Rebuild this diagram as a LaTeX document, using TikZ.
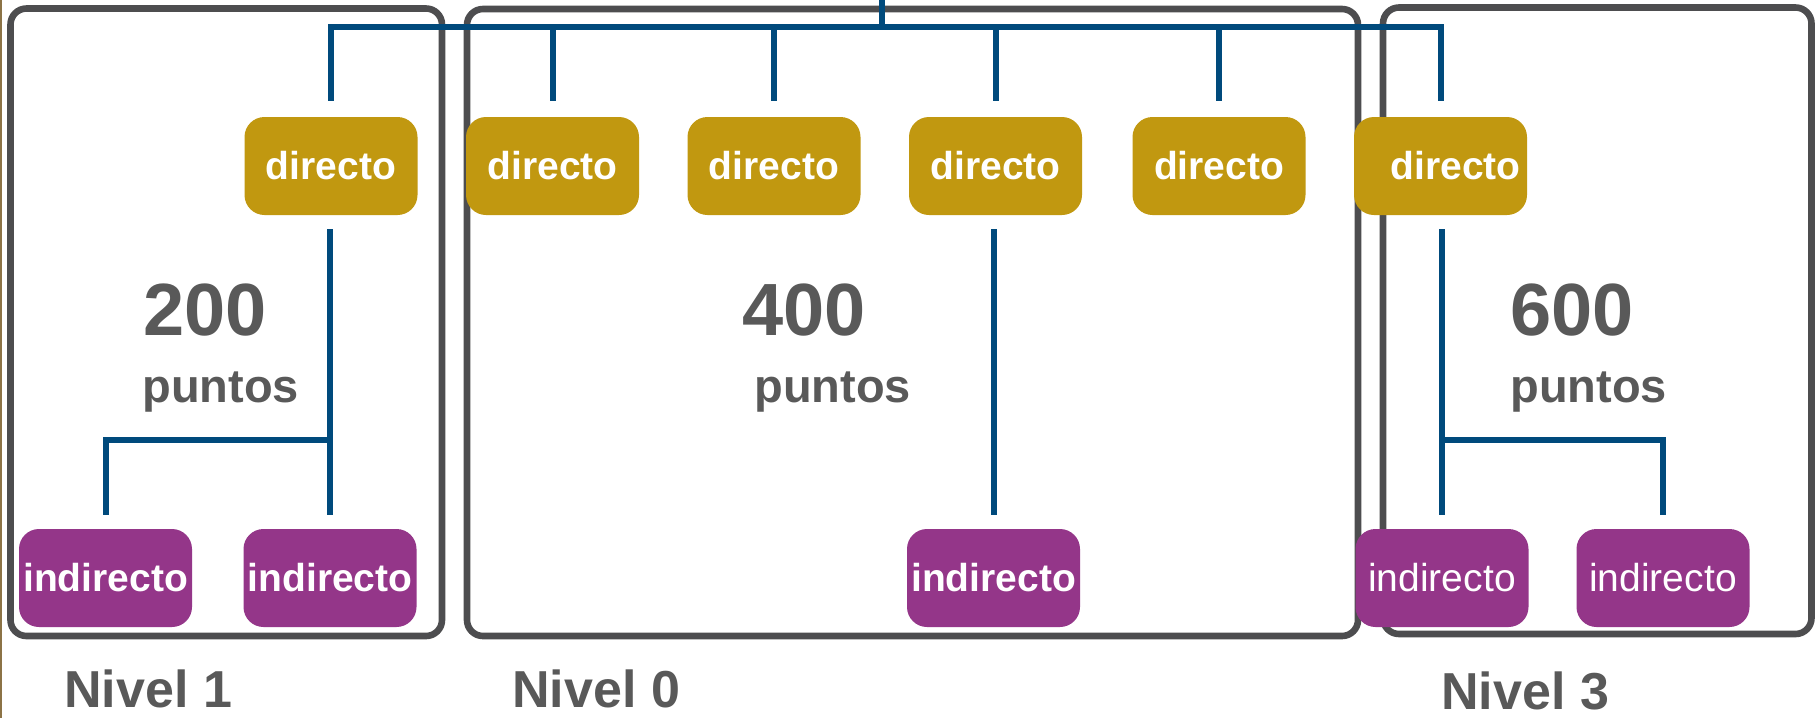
\documentclass[tikz,border=0pt]{standalone}
\usepackage{fontspec}
\setmainfont{Liberation Sans}
\definecolor{gold}{RGB}{193,152,16}
\definecolor{purp}{RGB}{148,54,137}
\definecolor{framegray}{RGB}{77,77,79}
\definecolor{txtgray}{RGB}{89,89,89}
\definecolor{linkblue}{RGB}{0,74,124}
\definecolor{brownl}{RGB}{140,115,70}
\begin{document}
\begin{tikzpicture}[x=0.5pt,y=-0.5pt,
  frame/.style={draw=framegray, line width=3.3pt, rounded corners=8pt},
  dbox/.style={fill=gold, rounded corners=10pt, minimum width=86.5pt, minimum height=49pt,
    inner sep=0pt, text=white, font=\fontsize{19.5}{22}\selectfont\bfseries},
  ibox/.style={fill=purp, rounded corners=10pt, minimum width=86.5pt, minimum height=49pt,
    inner sep=0pt, text=white, font=\fontsize{19.5}{22}\selectfont},
  iboxb/.style={ibox, font=\fontsize{19.5}{22}\selectfont\bfseries},
  link/.style={draw=linkblue, line width=3pt},
  num/.style={text=txtgray, font=\fontsize{37}{40}\selectfont\bfseries, anchor=base west, inner sep=0pt},
  pts/.style={text=txtgray, font=\fontsize{23.5}{26}\selectfont\bfseries, anchor=base west, inner sep=0pt},
  lvl/.style={text=txtgray, font=\fontsize{26}{28}\selectfont\bfseries, anchor=base west, inner sep=0pt}]
\useasboundingbox (0,0) rectangle (1820,718);
\fill[white] (0,0) rectangle (1820,718);
\draw[draw=brownl, line width=1pt] (1,0) -- (1,718);

% level frames
\draw[frame] (10.5,8.5) rectangle (442,636);
\draw[frame] (467,9) rectangle (1358,636);
\draw[frame] (1383,7.5) rectangle (1811.5,634);

% directo boxes
\node[dbox] (dL1) at (331,166) {directo};
\node[dbox] (d01) at (552.5,166) {directo};
\node[dbox] (d02) at (774,166) {directo};
\node[dbox] (d03) at (995.5,166) {directo};
\node[dbox] (d04) at (1219,166) {directo};
\node[dbox] (dL3) at (1440.5,166) {\hspace*{15pt}directo};

% indirecto boxes
\node[iboxb] (iL1a) at (105.5,578) {indirecto};
\node[iboxb] (iL1b) at (330,578) {indirecto};
\node[iboxb] (i0) at (993.5,578) {indirecto};
\node[ibox] (iL3a) at (1442,578) {indirecto};
\node[ibox] (iL3b) at (1663,578) {indirecto};

% texts
\node[num] (n200) at (143,335) {200};
\node[num] (n400) at (742,335) {400};
\node[num] (n600) at (1510,335) {600};
\node[pts] (p200) at (142,402) {puntos};
\node[pts] (p400) at (754,402) {puntos};
\node[pts] (p600) at (1510,402) {puntos};
\node[lvl] (lv1) at (64,707) {Nivel 1};
\node[lvl] (lv0) at (512,707) {Nivel 0};
\node[lvl] (lv3) at (1441,709) {Nivel 3};

% connectors
\coordinate (top) at (882,0);
\coordinate (bus) at (882,27);
\coordinate (br) at (0,440);
\draw[link] (top) -- (bus);
\draw[link, shorten <=8pt, shorten >=8pt] (dL1.north) |- (bus) -| (dL3.north);
\foreach \d in {d01,d02,d03,d04}
  \draw[link, shorten >=8pt] (\d.north |- bus) -- (\d.north);

\draw[link, shorten <=7pt, shorten >=7pt] (iL1b.north |- dL1.south) -- (iL1b.north);
\draw[link, shorten >=7pt] (iL1b.north |- br) -| (iL1a.north);
\draw[link, shorten <=7pt, shorten >=7pt] (i0.north |- d03.south) -- (i0.north);
\draw[link, shorten <=7pt, shorten >=7pt] (iL3a.north |- dL3.south) -- (iL3a.north);
\draw[link, shorten >=7pt] (iL3a.north |- br) -| (iL3b.north);
\end{tikzpicture}
\end{document}
